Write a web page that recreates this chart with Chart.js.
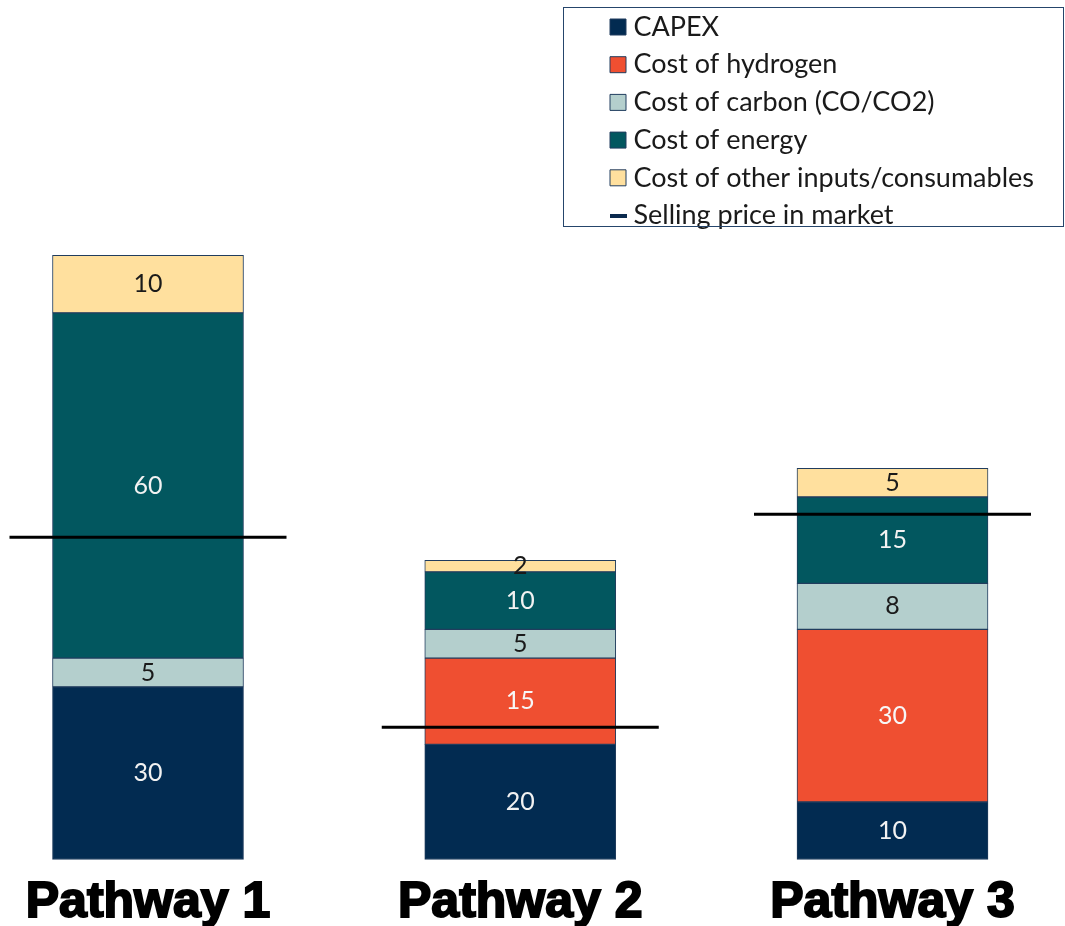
<!DOCTYPE html>
<html>
<head>
<meta charset="utf-8">
<script src="https://cdn.jsdelivr.net/npm/chart.js@4.4.0/dist/chart.umd.min.js"></script>
<style>
  html, body { margin: 0; padding: 0; background: #ffffff; }
  canvas { display: block; }
</style>
</head>
<body>
<canvas id="chart" width="1065" height="926"></canvas>
<script>
// Cost build-up per production pathway (stacked), plus the market selling price.
const categories = ['Pathway 1', 'Pathway 2', 'Pathway 3'];
const capex = [30, 20, 10];
const hydrogenCost = [0, 15, 30];
const carbonCost = [5, 5, 8];
const energyCost = [60, 10, 15];
const otherInputsCost = [10, 2, 5];
const sellingPrice = [56, 23, 60];
const seriesNames = [
  'CAPEX',
  'Cost of hydrogen',
  'Cost of carbon (CO/CO2)',
  'Cost of energy',
  'Cost of other inputs/consumables',
  'Selling price in market'
];

const segmentBorder = '#213D5E';
const costSeries = [
  { data: capex,           color: '#022B51', text: '#F2F2F2' },
  { data: hydrogenCost,    color: '#EF4F31', text: '#F7F7F7' },
  { data: carbonCost,      color: '#B4CFCD', text: '#1A1A1A' },
  { data: energyCost,      color: '#02575F', text: '#F2F2F2' },
  { data: otherInputsCost, color: '#FFE09E', text: '#1A1A1A' }
];

// small navy dash used as the legend symbol for the price marker
const priceSwatch = document.createElement('canvas');
priceSwatch.width = 17;
priceSwatch.height = 4;
(function () {
  const c = priceSwatch.getContext('2d');
  c.fillStyle = '#0B2A4E';
  c.fillRect(0, 0, 17, 4);
})();

const datasets = costSeries.map((s, i) => ({
  type: 'bar',
  label: seriesNames[i],
  data: s.data,
  backgroundColor: s.color,
  borderColor: segmentBorder,
  borderWidth: 1,
  borderSkipped: false,
  barThickness: 191,
  clip: false,
  stack: 'costs',
  labelColor: s.text
}));

datasets.push({
  type: 'line',
  label: seriesNames[5],
  data: sellingPrice,
  stack: 'price',
  order: -1,
  showLine: false,
  clip: false,
  pointStyle: 'line',
  pointRadius: 138.5,
  pointHoverRadius: 138.5,
  pointBorderWidth: 3,
  pointHoverBorderWidth: 3,
  pointBorderColor: '#000000',
  pointBackgroundColor: '#000000'
});

// Value labels centred inside each stacked segment
const segmentLabels = {
  id: 'segmentLabels',
  afterDatasetsDraw(chart) {
    const ctx = chart.ctx;
    ctx.save();
    ctx.font = '25px Lato';
    ctx.textAlign = 'center';
    ctx.textBaseline = 'middle';
    chart.data.datasets.forEach((ds, di) => {
      if (ds.type !== 'bar') return;
      const meta = chart.getDatasetMeta(di);
      meta.data.forEach((bar, i) => {
        const v = ds.data[i];
        if (!v) return;
        const p = bar.getCenterPoint();
        ctx.fillStyle = ds.labelColor;
        ctx.fillText(String(v), p.x, p.y);
      });
    });
    ctx.restore();
  }
};

// Places the legend in the top-right corner and frames it
const legendFrame = {
  id: 'legendFrame',
  afterLayout(chart, args, opts) {
    const lg = chart.legend;
    const pad = lg.options.labels.padding;
    lg.left = opts.itemX - pad;
    lg.top = opts.itemTop - pad;
    lg.right = opts.frame.x + opts.frame.w;
    lg.bottom = chart.height;
    lg.width = lg.right - lg.left;
    lg.height = lg.bottom - lg.top;
  },
  afterDraw(chart, args, opts) {
    const ctx = chart.ctx;
    const f = opts.frame;
    ctx.save();
    ctx.strokeStyle = opts.color;
    ctx.lineWidth = 1;
    ctx.strokeRect(f.x + 0.5, f.y + 0.5, f.w, f.h);
    ctx.restore();
  }
};

Chart.defaults.font.family = 'Lato';

new Chart(document.getElementById('chart'), {
  data: { labels: categories, datasets: datasets },
  options: {
    responsive: false,
    animation: false,
    events: [],
    layout: { autoPadding: false, padding: { left: 148, right: 171.5, top: 54, bottom: -21.5 } },
    scales: {
      x: {
        type: 'category',
        stacked: true,
        offset: false,
        grid: { display: false, drawTicks: false },
        border: { display: false },
        ticks: {
          autoSkip: false,
          maxRotation: 0,
          padding: 19,
          color: '#000000',
          textStrokeColor: '#000000',
          textStrokeWidth: 2,
          font: { family: '"Liberation Sans", Arial, sans-serif', size: 50, weight: 'bold', lineHeight: 1 }
        }
      },
      y: {
        display: false,
        stacked: true,
        min: 0,
        max: 140,
        grid: { display: false }
      }
    },
    plugins: {
      tooltip: { enabled: false },
      legendFrame: {
        itemX: 616,
        itemTop: 13.5,
        color: '#25456B',
        frame: { x: 563, y: 7, w: 500, h: 219 }
      },
      legend: {
        display: true,
        position: 'right',
        align: 'start',
        maxWidth: 1,
        labels: {
          usePointStyle: true,
          boxWidth: 4,
          boxHeight: 16,
          padding: 10.7,
          color: '#1A1A1A',
          font: { family: 'Lato', size: 27 },
          generateLabels(chart) {
            return chart.data.datasets.map((ds, i) => ({
              text: ds.label,
              datasetIndex: i,
              hidden: false,
              fillStyle: ds.type === 'bar' ? ds.backgroundColor : '#0B2A4E',
              strokeStyle: ds.type === 'bar' ? ds.borderColor : '#0B2A4E',
              lineWidth: 1,
              pointStyle: ds.type === 'bar' ? 'rect' : priceSwatch,
              fontColor: '#1A1A1A'
            }));
          }
        }
      }
    }
  },
  plugins: [segmentLabels, legendFrame]
});
</script>
</body>
</html>
